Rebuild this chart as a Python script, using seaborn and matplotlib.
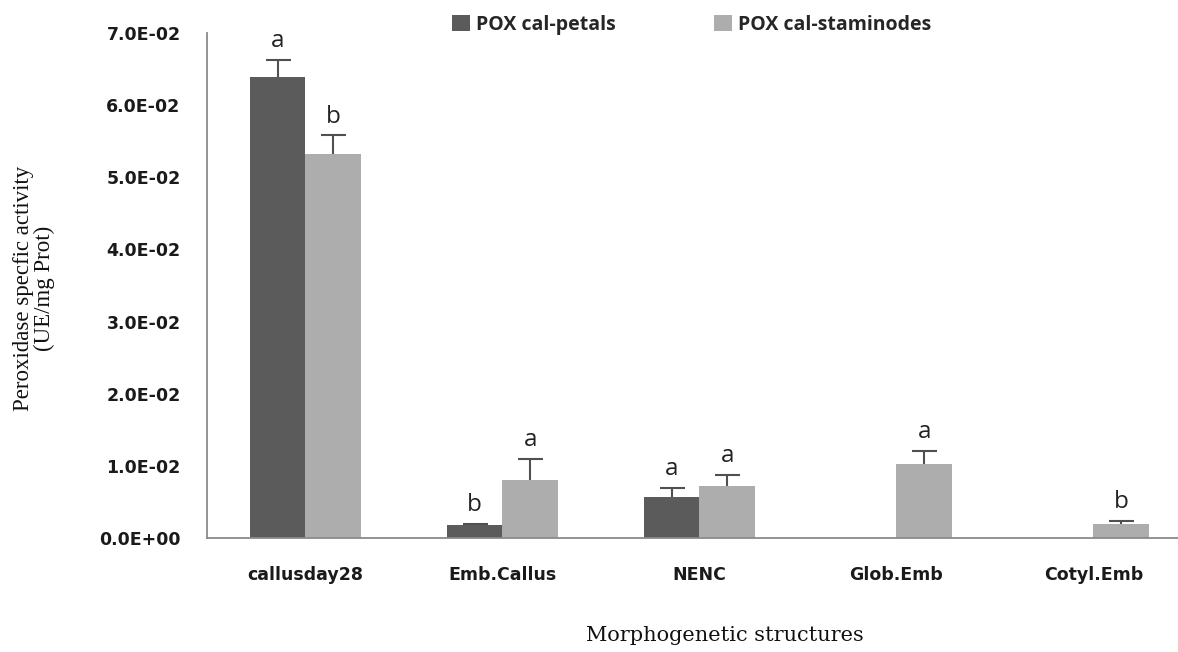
import numpy as np
import pandas as pd
import matplotlib
matplotlib.use("Agg")
import matplotlib.pyplot as plt
import seaborn as sns
from matplotlib.ticker import FuncFormatter, FixedLocator
from matplotlib.patches import Patch

# data
structures = ["callusday28", "Emb.Callus", "NENC", "Glob.Emb", "Cotyl.Emb"]
series = ["POX cal-petals", "POX cal-staminodes"]
petals = [0.0639, 0.0018, 0.0057, 0.0, 0.0]
petals_err = [0.0024, 0.0002, 0.0013, 0.0, 0.0]
petals_lett = ["a", "b", "a", "", ""]
stamin = [0.0533, 0.0080, 0.0072, 0.0102, 0.0020]
stamin_err = [0.0025, 0.0030, 0.0016, 0.0019, 0.0003]
stamin_lett = ["b", "a", "a", "a", "b"]

df = pd.DataFrame({
    "structure": structures * 2,
    "series": [series[0]] * 5 + [series[1]] * 5,
    "value": petals + stamin,
})

colors = ["#5b5b5b", "#adadad"]
sns.set_style("white")
plt.rcParams["font.family"] = ["Open Sans", "DejaVu Sans"]

fig = plt.figure(figsize=(11.78, 6.52), dpi=100)
ax = fig.add_axes([0.1757, 0.1748, 0.836, 0.7745])

sns.barplot(data=df, x="structure", y="value", hue="series", palette=colors,
            width=0.565, gap=0, errorbar=None, saturation=1, ax=ax, legend=False)

errs = [petals_err, stamin_err]
letts = [petals_lett, stamin_lett]
vals = [petals, stamin]
bar_conts = list(ax.containers)
for i, cont in enumerate(bar_conts):
    for j, p in enumerate(cont.patches):
        p.set_edgecolor("none")
        xc = p.get_x() + p.get_width() / 2
        v = vals[i][j]
        e = errs[i][j]
        if e > 0:
            eb = ax.errorbar(xc, v, yerr=[[0], [e]], fmt="none", ecolor="#505050",
                             elinewidth=1.5, capsize=9, capthick=1.5, zorder=3)
            # only the upper cap, like the original
            eb[1][0].set_visible(False)
        if letts[i][j]:
            ax.annotate(letts[i][j], (xc, v + e), xytext=(0, 5), textcoords="offset points",
                        ha="center", va="bottom", fontsize=17.5, color="#222222")

ax.set_xlim(-0.5, 4.5)
ax.set_ylim(0, 0.07)
ax.set_yticks(np.arange(0, 0.0701, 0.01))
ax.yaxis.set_major_formatter(FuncFormatter(lambda v, p: f"{v:.1E}"))
ax.xaxis.set_minor_locator(FixedLocator(np.arange(-0.5, 4.6, 1)))
ax.tick_params(axis="x", which="major", length=0, pad=20, labelsize=12.5)
ax.tick_params(axis="x", which="minor", length=7, width=1.2, color="#8a8a8a", direction="out")
ax.tick_params(axis="y", length=7, width=1.2, color="#8a8a8a", direction="out", pad=12, labelsize=12.5)
for lab in ax.get_xticklabels() + ax.get_yticklabels():
    lab.set_fontweight("bold")
    lab.set_family("DejaVu Sans")
    lab.set_color("#1a1a1a")

for s in ["top", "right"]:
    ax.spines[s].set_visible(False)
for s in ["left", "bottom"]:
    ax.spines[s].set_color("#8a8a8a")
    ax.spines[s].set_linewidth(1.3)

ax.set_xlabel("")
ax.set_ylabel("")
fig.text(0.615, 0.026, "Morphogenetic structures", ha="center", va="center",
         fontsize=15, family="DejaVu Serif", color="#111111")
fig.text(0.029, 0.557, "Peroxidase specfic activity\n(UE/mg Prot)", rotation=90,
         ha="center", va="center", fontsize=16.5, family="Liberation Serif",
         color="#111111", linespacing=1.0)

handles = [Patch(facecolor=c, edgecolor="none") for c in colors]
fig.legend(handles, series, loc="center left", bbox_to_anchor=(0.369, 0.962), ncol=2,
           frameon=False, handlelength=0.9, handleheight=0.9, handletextpad=0.3,
           columnspacing=5.1, prop={"weight": "bold", "size": 14})

fig.savefig("out.png", dpi=100)
